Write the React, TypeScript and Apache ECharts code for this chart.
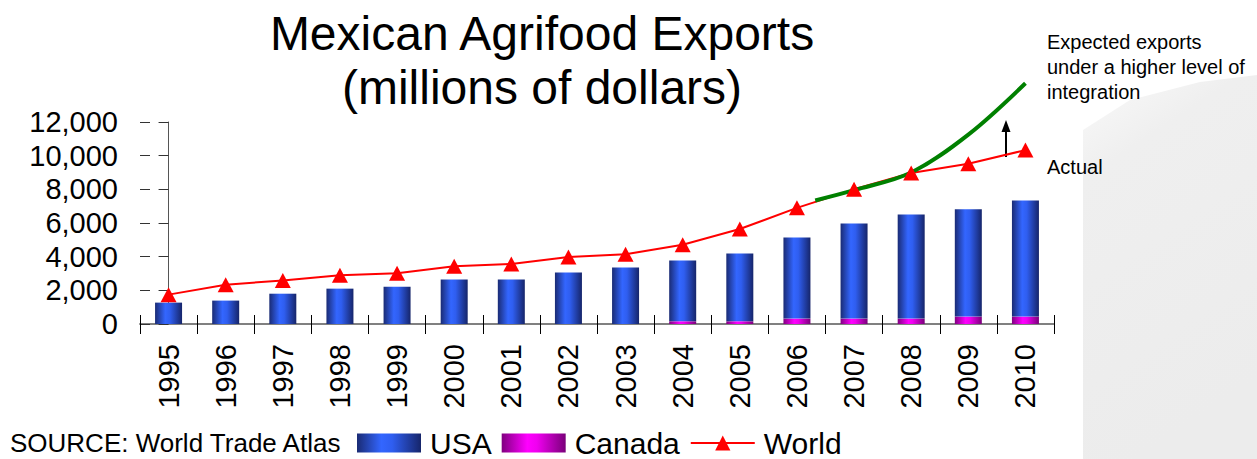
import React, { useEffect, useRef } from "react";
import * as echarts from "echarts";

const years = ["1995", "1996", "1997", "1998", "1999", "2000", "2001", "2002", "2003", "2004", "2005", "2006", "2007", "2008", "2009", "2010"];
const usa = [1270, 1390, 1800, 2100, 2220, 2640, 2640, 3060, 3350, 3610, 4030, 4820, 5650, 6190, 6370, 6900];
const canada = [0, 0, 0, 0, 0, 0, 0, 0, 0, 160, 160, 320, 320, 320, 440, 440];
const world = [1745, 2330, 2590, 2890, 3015, 3430, 3560, 3980, 4140, 4710, 5640, 6900, 8000, 8970, 9520, 10330];
// [category position, value]
const expected: [number, number][] = [[11.32, 7340], [12, 7950], [13, 9000], [14, 11250], [15, 14300]];
const yMin = 0;
const yMax = 12000;
const yStep = 2000;

const titleLines = ["Mexican Agrifood Exports", "(millions of dollars)"];
const sourceText = "SOURCE: World Trade Atlas";
const expectedNote = ["Expected exports", "under a higher level of", "integration"];
const actualNote = "Actual";

const FONT = "'Liberation Sans', Arial, Helvetica, sans-serif";

export default function App() {
  const ref = useRef<HTMLDivElement>(null);
  useEffect(() => {
    const chart = echarts.init(ref.current!, null, { renderer: "svg" });
    const blue = new echarts.graphic.LinearGradient(0, 0, 1, 0, [
      { offset: 0, color: "#1a2b74" },
      { offset: 0.38, color: "#3366ff" },
      { offset: 0.55, color: "#2f5ef0" },
      { offset: 1, color: "#16256a" },
    ]);
    const magenta = new echarts.graphic.LinearGradient(0, 0, 1, 0, [
      { offset: 0, color: "#800080" },
      { offset: 0.4, color: "#ff00ff" },
      { offset: 0.55, color: "#f000f0" },
      { offset: 1, color: "#7a007a" },
    ]);
    const grid = { left: 140, right: 203, top: 122, bottom: 135 };
    const option: any = {
      animation: false,
      backgroundColor: "#ffffff",
      grid,
      legend: {
        left: 352,
        top: 423,
        itemWidth: 64,
        itemHeight: 19,
        itemGap: 10,
        selectedMode: false,
        textStyle: { fontFamily: FONT, fontSize: 30, color: "#000", padding: [0, 0, 0, 4] },
        data: [
          { name: "USA", icon: "rect" },
          { name: "Canada", icon: "rect" },
          { name: "World" },
        ],
      },
      xAxis: [
        {
          type: "category",
          data: years,
          position: "bottom",
          boundaryGap: true,
          axisLine: { show: true, lineStyle: { color: "#808080", width: 2 } },
          axisTick: { show: true, length: 10, lineStyle: { color: "#000", width: 1 } },
          axisLabel: { rotate: 90, interval: 0, margin: 20, fontFamily: FONT, fontSize: 29, color: "#000" },
          splitLine: { show: false },
        },
        {
          type: "category",
          data: years,
          position: "bottom",
          boundaryGap: true,
          axisLine: { show: false },
          axisTick: { show: true, inside: true, length: 9, lineStyle: { color: "#000", width: 1 } },
          axisLabel: { show: false },
          splitLine: { show: false },
        },
        { type: "value", min: -0.5, max: 15.5, show: false },
      ],
      yAxis: [
        {
          type: "value",
          min: yMin,
          max: yMax,
          interval: yStep,
          position: "left",
          axisLine: { show: true, lineStyle: { color: "#555", width: 1 } },
          axisTick: { show: true, length: 10, lineStyle: { color: "#333", width: 1 } },
          axisLabel: {
            margin: 22,
            fontFamily: FONT,
            fontSize: 29,
            color: "#000",
            formatter: (v: number) => v.toLocaleString("en-US"),
          },
          splitLine: { show: false },
        },
        {
          type: "value",
          min: yMin,
          max: yMax,
          interval: yStep,
          position: "left",
          axisLine: { show: false },
          axisTick: { show: true, inside: true, length: 10, lineStyle: { color: "#333", width: 1 } },
          axisLabel: { show: false },
          splitLine: { show: false },
        },
      ],
      series: [
        {
          name: "Canada",
          type: "bar",
          stack: "total",
          xAxisIndex: 0,
          yAxisIndex: 0,
          barWidth: 27,
          itemStyle: { color: magenta },
          data: canada,
        },
        {
          name: "USA",
          type: "bar",
          stack: "total",
          xAxisIndex: 0,
          yAxisIndex: 0,
          barWidth: 27,
          itemStyle: { color: blue },
          data: usa,
        },
        {
          name: "World",
          type: "line",
          xAxisIndex: 0,
          yAxisIndex: 0,
          symbol: "triangle",
          symbolSize: [16, 15],
          lineStyle: { color: "#ff0000", width: 2 },
          itemStyle: { color: "#ff0000" },
          data: world,
        },
        {
          name: "Expected exports",
          type: "line",
          xAxisIndex: 2,
          yAxisIndex: 0,
          smooth: 0.35,
          clip: false,
          symbol: "none",
          lineStyle: { color: "#008000", width: 4 },
          data: expected,
        },
      ],
      graphic: [
        {
          type: "polygon",
          z: -10,
          silent: true,
          shape: { points: [[1083, 130], [1130, 100], [1200, 82], [1257, 75], [1257, 459], [1083, 459]] },
          style: {
            fill: new echarts.graphic.LinearGradient(0, 0, 0.3, 1, [
              { offset: 0, color: "#fafafa" },
              { offset: 0.25, color: "#efefef" },
              { offset: 1, color: "#ececec" },
            ]),
          },
        },
        {
          type: "text",
          x: 542,
          y: 33,
          style: { text: titleLines[0], font: `48px ${FONT}`, fill: "#000", align: "center", verticalAlign: "middle" },
        },
        {
          type: "text",
          x: 542,
          y: 87,
          style: { text: titleLines[1], font: `48px ${FONT}`, fill: "#000", align: "center", verticalAlign: "middle" },
        },
        {
          type: "text",
          x: 10,
          y: 443,
          style: { text: sourceText, font: `26px ${FONT}`, fill: "#000", align: "left", verticalAlign: "middle" },
        },
        ...expectedNote.map((t, i) => ({
          type: "text",
          x: 1047,
          y: 42 + i * 25,
          style: { text: t, font: `20px ${FONT}`, fill: "#000", align: "left", verticalAlign: "middle" },
        })),
        {
          type: "text",
          x: 1047,
          y: 167,
          style: { text: actualNote, font: `20px ${FONT}`, fill: "#000", align: "left", verticalAlign: "middle" },
        },
        {
          type: "line",
          shape: { x1: 1006, y1: 157, x2: 1006, y2: 130 },
          style: { stroke: "#000", lineWidth: 2 },
        },
        {
          type: "polygon",
          shape: { points: [[1006, 120], [1001.5, 132], [1010.5, 132]] },
          style: { fill: "#000" },
        },
      ],
    };
    chart.setOption(option);
    return () => chart.dispose();
  }, []);
  return <div ref={ref} style={{ position: "fixed", left: 0, top: 0, width: 1257, height: 459 }} />;
}
